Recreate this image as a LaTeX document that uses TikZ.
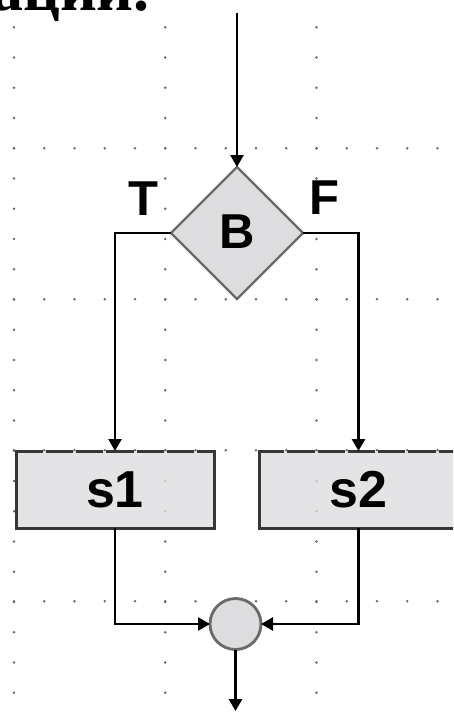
\documentclass[tikz,border=0pt]{standalone}
\usepackage{fontspec}
\setmainfont{Liberation Sans}
\newfontfamily\cyrserif{Liberation Serif}
\usetikzlibrary{shapes.geometric,arrows.meta}

\definecolor{shapefill}{RGB}{221,221,223}
\definecolor{shapeedge}{RGB}{105,105,105}
\definecolor{boxedge}{RGB}{55,55,55}
\definecolor{gridgray}{RGB}{105,105,105}

\tikzset{
  decision/.style={diamond, aspect=1, draw=shapeedge, line width=2.4pt,
    fill=shapefill, minimum width=132pt, minimum height=132pt,
    inner sep=0pt, outer sep=0pt, font=\fontsize{49}{49}\selectfont\bfseries},
  process/.style={rectangle, fill=shapefill, fill opacity=0.78, text opacity=1,
    minimum width=198pt, minimum height=77pt, inner sep=0pt, outer sep=0pt,
    font=\fontsize{52}{52}\selectfont\bfseries},
  boxsides/.style={draw=boxedge, line width=3pt, line cap=rect},
  boxtop/.style={draw=boxedge, line width=3pt, dash pattern=on 27.25pt off 3pt},
  junction/.style={circle, draw=shapeedge, line width=2.8pt, fill=shapefill,
    minimum size=51pt, inner sep=0pt, outer sep=0pt},
  branchlabel/.style={inner sep=0pt, font=\fontsize{49}{49}\selectfont\bfseries},
  flow/.style={draw=black, line width=2.6pt,
    -{Triangle[length=12pt,width=13pt]}},
  griddot/.style={fill=gridgray}
}

\begin{document}
\begin{tikzpicture}[x=1pt,y=-1pt]
\useasboundingbox (0,0) rectangle (453,713);
\clip (0,0) rectangle (453,713);

% dotted drawing grid
\foreach \r in {148.3,299.3,450.3,601.3}
  \foreach \n in {0,...,14}
    \fill[griddot] (14+30.25*\n,\r) circle (1.35pt);
\foreach \c in {14,165.25,316.5}
  \foreach \m in {-4,...,18}
    \fill[griddot] (\c,148.3+30.25*\m) circle (1.35pt);

% tail of the preceding line of text
\node[anchor=base east, inner sep=0pt,
      font=\cyrserif\fontsize{64}{64}\selectfont\bfseries] (caption) at (150,10) {зации.};

% shapes
\node[decision] (b) at (237,233) {\raisebox{3pt}{B}};
\node[process] (s1) at (115,489.5) {s1};
\node[process] (s2) at (358.5,489.5) {s2};
\node[junction] (j) at (235.5,624) {};

% box outlines: solid sides, broken top edge
\draw[boxsides] (s1.north east) -- (s1.south east) -- (s1.south west) -- (s1.north west);
\draw[boxtop, dash phase=0.5pt] (s1.north west) -- (s1.north east);
\draw[boxsides] (s2.north east) -- (s2.south east) -- (s2.south west) -- (s2.north west);
\draw[boxtop, dash phase=2.5pt] (s2.north west) -- (s2.north east);

% branch labels
\node[branchlabel] (t) at (143,199) {T};
\node[branchlabel] (f) at (324,198) {F};

% connectors
\coordinate (entry) at (237,13);
\coordinate (exit) at (235.5,711);
\draw[flow] (entry) -- (b.north);
\draw[flow] (b.west) -| (s1.north);
\draw[flow] (b.east) -| (s2.north);
\draw[flow] (s1.south) |- (j.west);
\draw[flow] (s2.south) |- (j.east);
\draw[flow] (j.south) -- (exit);
\end{tikzpicture}
\end{document}
